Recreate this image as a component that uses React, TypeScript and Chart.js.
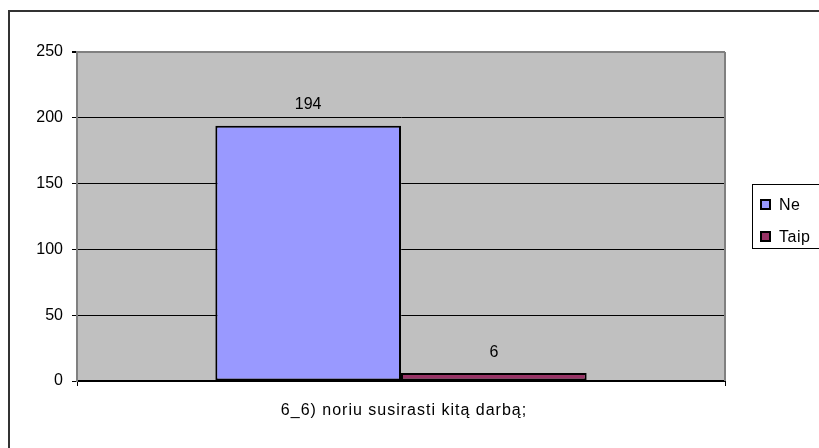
import React, { useEffect, useRef } from "react";
import { Chart, registerables } from "chart.js";

Chart.register(...registerables);

const categories = ["6_6) noriu susirasti kitą darbą;"];
const seriesNames = ["Ne", "Taip"];
const neValues = [194];
const taipValues = [6];
const seriesColors = ["#9999FF", "#993366"];
const yTicks = [0, 50, 100, 150, 200, 250];

const FONT = "'Liberation Sans', Arial, sans-serif";

const decorPlugin = {
  id: "decor",
  beforeDraw(chart: any) {
    const { ctx, chartArea } = chart;
    ctx.save();
    ctx.fillStyle = "#C0C0C0";
    ctx.fillRect(chartArea.left, chartArea.top, chartArea.right - chartArea.left, chartArea.bottom - chartArea.top);
    ctx.restore();
  },
  afterDraw(chart: any) {
    const { ctx, chartArea } = chart;
    ctx.save();
    // right border of plot
    ctx.strokeStyle = "#808080";
    ctx.lineWidth = 2;
    ctx.beginPath();
    ctx.moveTo(chartArea.right, chartArea.top);
    ctx.lineTo(chartArea.right, chartArea.bottom);
    ctx.stroke();
    // data labels
    ctx.fillStyle = "#000";
    ctx.font = `16px ${FONT}`;
    ctx.textAlign = "center";
    ctx.textBaseline = "middle";
    chart.data.datasets.forEach((ds: any, i: number) => {
      const meta = chart.getDatasetMeta(i);
      meta.data.forEach((el: any, j: number) => {
        ctx.fillText(String(ds.data[j]), el.x, el.y - 21);
      });
    });
    // category labels (spaced)
    const xs = chart.scales.x;
    (ctx as any).letterSpacing = "1px";
    categories.forEach((c, i) => {
      ctx.fillText(c, xs.getPixelForValue(i) + 3, 411);
    });
    // outer border
    ctx.strokeStyle = "#333";
    ctx.lineWidth = 2;
    ctx.beginPath();
    ctx.moveTo(9, 448);
    ctx.lineTo(9, 11);
    ctx.lineTo(819, 11);
    ctx.stroke();
    // legend
    const lx = 752, ly = 184, lw = 70, lh = 64;
    ctx.fillStyle = "#fff";
    ctx.fillRect(lx, ly, lw, lh);
    ctx.strokeStyle = "#000";
    ctx.lineWidth = 1;
    ctx.strokeRect(lx + 0.5, ly + 0.5, lw, lh);
    (ctx as any).letterSpacing = "0.5px";
    const rows = [205, 237];
    seriesNames.forEach((name, i) => {
      const cy = rows[i];
      ctx.fillStyle = seriesColors[i];
      ctx.fillRect(761, cy - 5, 9, 9);
      ctx.strokeStyle = "#000";
      ctx.lineWidth = 2;
      ctx.strokeRect(761, cy - 5, 9, 9);
      ctx.fillStyle = "#000";
      ctx.textAlign = "left";
      ctx.textBaseline = "middle";
      ctx.font = `16px ${FONT}`;
      ctx.fillText(name, 779, cy + 1);
    });
    ctx.restore();
  },
};

export default function App() {
  const ref = useRef<HTMLCanvasElement>(null);
  useEffect(() => {
    const chart = new Chart(ref.current!, {
      type: "bar",
      data: {
        labels: categories,
        datasets: [
          { label: seriesNames[0], data: neValues, backgroundColor: seriesColors[0], borderColor: "#000", borderWidth: 2, borderSkipped: false },
          { label: seriesNames[1], data: taipValues, backgroundColor: seriesColors[1], borderColor: "#000", borderWidth: 2, borderSkipped: false },
        ],
      },
      options: {
        animation: false,
        responsive: false,
        devicePixelRatio: 1,
        layout: { padding: { left: 8, top: 52, right: 94, bottom: 0 } },
        plugins: { legend: { display: false }, tooltip: { enabled: false } },
        datasets: { bar: { barPercentage: 1, categoryPercentage: 0.573 } },
        scales: {
          x: {
            grid: { offset: true, drawOnChartArea: false, color: "#000", tickLength: 5 },
            border: { color: "#000", width: 2 },
            ticks: { display: false },
            afterFit(scale: any) { scale.height = 67; },
          },
          y: {
            min: 0,
            max: 250,
            afterBuildTicks(scale: any) { scale.ticks = yTicks.map((v) => ({ value: v })); },
            grid: {
              color: (c: any) => (c.tick && c.tick.value === 250 ? "#808080" : "#000"),
              tickColor: "#000",
              tickLength: 5,
              lineWidth: (c: any) => (c.tick && c.tick.value === 250 ? 2 : 1),
            },
            border: { color: "#808080", width: 2 },
            ticks: { color: "#000", font: { family: FONT, size: 16 }, padding: 9 },
            afterFit(scale: any) { scale.width = 69; },
          },
        },
      },
      plugins: [decorPlugin],
    });
    return () => chart.destroy();
  }, []);
  return (
    <div style={{ position: "fixed", left: 0, top: 0, width: 819, height: 448, background: "#fff" }}>
      <canvas ref={ref} width={819} height={448} style={{ display: "block" }} />
    </div>
  );
}
